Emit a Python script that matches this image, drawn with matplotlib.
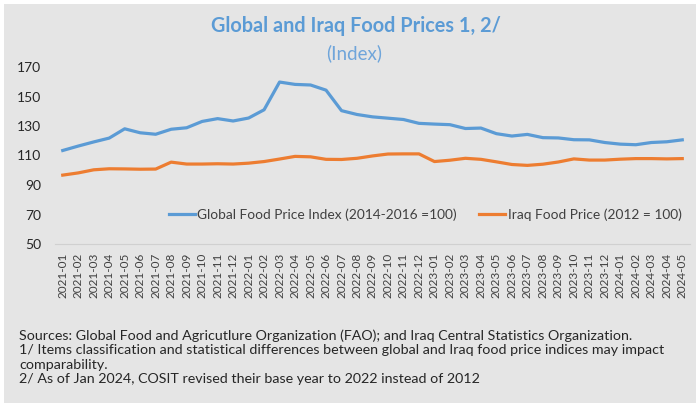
import matplotlib.pyplot as plt
from matplotlib.patches import Rectangle

# monthly labels 2021-01 .. 2024-05
months = ['2021-01', '2021-02', '2021-03', '2021-04', '2021-05', '2021-06', '2021-07',
          '2021-08', '2021-09', '2021-10', '2021-11', '2021-12',
          '2022-01', '2022-02', '2022-03', '2022-04', '2022-05', '2022-06', '2022-07',
          '2022-08', '2022-09', '2022-10', '2022-11', '2022-12',
          '2023-01', '2023-02', '2023-03', '2023-04', '2023-05', '2023-06', '2023-07',
          '2023-08', '2023-09', '2023-10', '2023-11', '2023-12',
          '2024-01', '2024-02', '2024-03', '2024-04', '2024-05']

global_fpi = [113.4, 116.4, 119.2, 121.8, 128.1, 125.4, 124.4, 127.8, 128.8, 133.1, 135.0, 133.4,
              135.4, 141.0, 159.8, 158.2, 157.8, 154.3, 140.4,
              137.8, 136.2, 135.3, 134.4, 131.8, 131.3, 130.9, 128.3, 128.6,
              124.8, 123.2, 124.3, 122.1, 121.9, 120.7, 120.6, 118.8, 117.7,
              117.3, 118.8, 119.3, 120.6]

iraq_fp = [96.7, 98.2, 100.3, 101.0, 100.9, 100.7, 100.8, 105.5, 104.2, 104.2, 104.4, 104.2,
           104.8, 105.9, 107.6, 109.4, 109.1, 107.4, 107.3,
           108.1, 109.7, 111.0, 111.1, 111.1, 105.9, 106.8, 108.1, 107.4,
           105.7, 103.9, 103.3, 104.1, 105.6, 107.7, 106.9, 106.9, 107.5,
           107.9, 107.9, 107.7, 107.9]

y_ticks = [50, 70, 90, 110, 130, 150, 170]

title = 'Global and Iraq Food Prices 1, 2/'
subtitle = '(Index)'
notes = ['Sources: Global Food and Agricutlure Organization (FAO); and Iraq Central Statistics Organization.',
         '1/ Items classification and statistical differences between global and Iraq food price indices may impact',
         'comparability.',
         '2/ As of Jan 2024, COSIT revised their base year to 2022 instead of 2012']

plt.rcParams['font.family'] = ['Lato', 'DejaVu Sans']

W, H = 696, 408
fig = plt.figure(figsize=(W / 100, H / 100), dpi=100)
fig.patch.set_facecolor('white')
fig.patches.append(Rectangle((4 / W, 1 - 403 / H), 1 - 4 / W, 399 / H,
                             transform=fig.transFigure, facecolor='#e5e5e5',
                             edgecolor='none', zorder=-1))

ax = fig.add_axes([55 / W, 1 - 244 / H, 635 / W, 177 / H])
ax.set_facecolor('none')
ax.set_zorder(1)

x = list(range(len(months)))
ax.plot(x, global_fpi, color='#5b9bd5', lw=2.3, label='Global Food Price Index (2014-2016 =100)')
ax.plot(x, iraq_fp, color='#ed7d31', lw=2.3, label='Iraq Food Price (2012 = 100)')

ax.set_xlim(-0.5, len(months) - 0.5)
ax.set_ylim(50, 170)
ax.set_yticks(y_ticks)
ax.set_xticks(x)
ax.set_xticklabels(months, rotation=90, fontsize=8.5, color='#404040')
ax.tick_params(axis='x', length=0, pad=6.5)
ax.tick_params(axis='y', length=0, pad=10, labelsize=10, labelcolor='#262626')
for s in ['top', 'right', 'left']:
    ax.spines[s].set_visible(False)
ax.spines['bottom'].set_color('#d0d0d0')
ax.spines['bottom'].set_linewidth(0.8)

ax.legend(loc='center', bbox_to_anchor=(0.583, 0.164), ncol=2, frameon=False,
          fontsize=9.9, handlelength=1.9, handletextpad=0.2, columnspacing=1.6,
          labelcolor='#404040')

fig.text(356 / W, 1 - 26 / H, title, ha='center', va='center', fontsize=14.3,
         fontweight='bold', color='#5b9bd5')
fig.text(354 / W, 1 - 53 / H, subtitle, ha='center', va='center', fontsize=13.5,
         color='#6fa5da')

for i, line in enumerate(notes):
    fig.text(19 / W, 1 - (336 + i * 14.3) / H, line, ha='left', va='center',
             fontsize=10.3, color='#262626')

fig.savefig('out.png', dpi=100)
